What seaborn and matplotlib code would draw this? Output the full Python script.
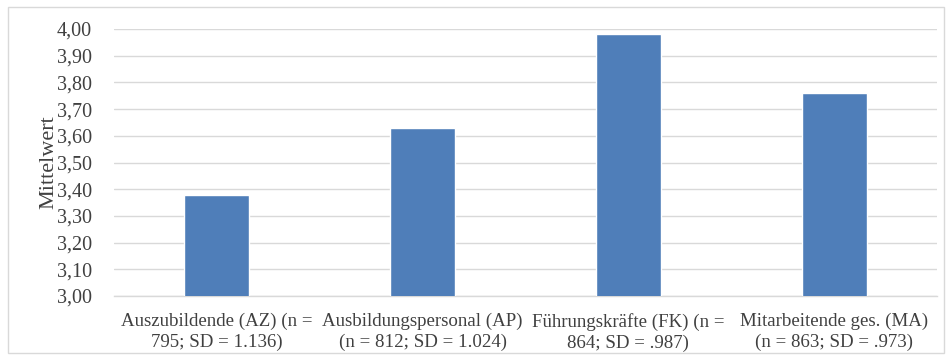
import seaborn as sns
import matplotlib.pyplot as plt
import matplotlib.ticker as ticker
import pandas as pd

categories = [
    "Auszubildende (AZ) (n =\n795; SD = 1.136)",
    "Ausbildungspersonal (AP)\n(n = 812; SD = 1.024)",
    "Führungskräfte (FK) (n =\n864; SD = .987)",
    "Mitarbeitende ges. (MA)\n(n = 863; SD = .973)",
]
means = [3.38, 3.63, 3.98, 3.76]

df = pd.DataFrame({"group": categories, "mean": means})

sns.set_style("white")
plt.rcParams['font.family'] = ['Liberation Serif', 'DejaVu Serif']

fig = plt.figure(figsize=(9.52, 3.6), dpi=100)
ax = fig.add_axes([114 / 952, 1 - 296 / 360, (937 - 114) / 952, (296 - 29) / 360])

sns.barplot(data=df, x="group", y="mean", color="#4f7eb9", width=0.315,
            saturation=1, ax=ax, zorder=3)

ax.set_ylim(3.0, 4.0)
ax.set_xlim(-0.5, 3.5)
ax.yaxis.set_major_locator(ticker.MultipleLocator(0.1))
ax.yaxis.set_major_formatter(ticker.FuncFormatter(lambda v, p: f"{v:.2f}".replace(".", ",")))
ax.grid(axis="y", color="#d9d9d9", linewidth=1, zorder=0)
for s in ["top", "right", "left"]:
    ax.spines[s].set_visible(False)
ax.spines["bottom"].set_color("#d9d9d9")
ax.spines["bottom"].set_linewidth(1)
ax.tick_params(axis="y", length=0, labelsize=14.5, colors="#404040", pad=16)
ax.tick_params(axis="x", length=0, labelsize=13.6, colors="#404040", pad=12)
for lbl in ax.get_xticklabels():
    lbl.set_linespacing(1.3)
ax.set_xlabel("")
ax.set_ylabel("Mittelwert", fontsize=16, color="#404040")
ax.yaxis.set_label_coords(-0.067, 0.5)

# light frame around the whole chart
fig.patches.append(plt.Rectangle((8 / 952, 7 / 360), 936 / 952, 346 / 360, transform=fig.transFigure,
                                 fill=False, edgecolor="#d9d9d9", linewidth=1))

fig.savefig("out.png", dpi=100)
